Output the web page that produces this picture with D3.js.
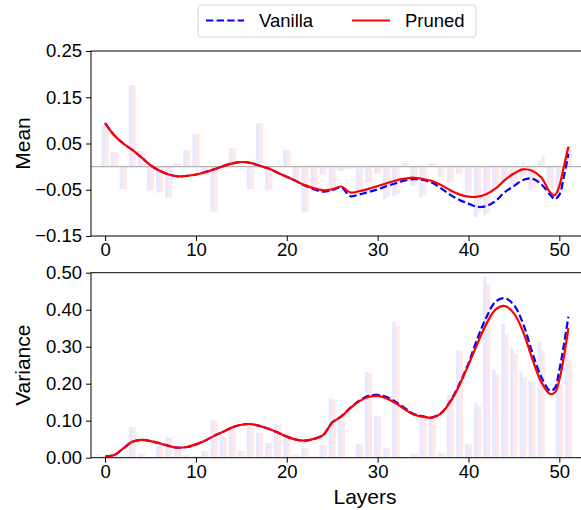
<!DOCTYPE html>
<html>
<head>
<meta charset="utf-8">
<script src="https://cdn.jsdelivr.net/npm/d3@7"></script>
<style>
  body { margin: 0; background: #fff; }
  svg { display: block; font-family: "Liberation Sans", Arial, sans-serif; }
  .tick text { font-size: 18.5px; fill: #000; }
  .tick line { stroke: #000; }
  .domain { display: none; }
</style>
</head>
<body>
<svg id="chart" width="581" height="510"></svg>
<script>
// ---------- data

const layers = d3.range(0, 52);

// sample positions for the smoothed curves
const lineLayers = [0,1,2,3,4,5,6,7,8,9,10,11,12,13,14,15,16,17,18,19,20,21,22,23,24,25,
  26,27,28,29,30,31,32,33,34,35,36,37,38,39,40,41,42,43,44,45,46,47,48,49,49.5,50,50.5,51];

const meanVanillaBars = [0.088,0.031,-0.049,0.176,0.034,-0.052,-0.056,-0.067,0.007,0.036,
  0.070,-0.018,-0.097,0.002,0.040,0.004,-0.049,0.094,-0.051,0.002,
  0.036,-0.029,-0.099,-0.054,-0.017,-0.050,-0.009,-0.005,-0.050,-0.035,
  -0.015,-0.070,-0.064,0.008,-0.042,-0.066,0.007,-0.022,-0.036,-0.015,
  -0.058,-0.110,-0.105,-0.050,-0.030,-0.040,-0.023,-0.050,0.012,-0.050,
  -0.060,0.043];
const meanPrunedBars = [0.086,0.031,-0.049,0.176,0.034,-0.052,-0.056,-0.067,0.007,0.036,
  0.070,-0.018,-0.099,0.002,0.040,0.004,-0.049,0.094,-0.049,0.002,
  0.036,-0.029,-0.099,-0.054,-0.017,-0.050,-0.009,-0.005,-0.048,-0.035,
  -0.015,-0.066,-0.060,0.012,-0.040,-0.062,0.007,-0.020,-0.034,-0.015,
  -0.054,-0.098,-0.100,-0.046,-0.027,-0.036,-0.020,-0.046,0.022,-0.046,
  -0.055,0.045];

const meanVanillaLine = [0.094,0.068,0.050,0.036,0.020,0.003,-0.009,-0.017,-0.021,-0.020,
  -0.017,-0.012,-0.006,0.001,0.007,0.010,0.008,0.002,-0.004,-0.013,
  -0.022,-0.031,-0.041,-0.049,-0.054,-0.051,-0.045,-0.064,-0.060,-0.055,
  -0.049,-0.042,-0.036,-0.030,-0.027,-0.029,-0.035,-0.047,-0.061,-0.072,
  -0.080,-0.087,-0.085,-0.074,-0.055,-0.042,-0.029,-0.026,-0.038,-0.061,
  -0.070,-0.061,-0.022,0.028];
const meanPrunedLine = [0.094,0.068,0.050,0.036,0.020,0.003,-0.009,-0.017,-0.021,-0.020,
  -0.017,-0.012,-0.006,0.001,0.007,0.010,0.008,0.002,-0.004,-0.013,
  -0.022,-0.031,-0.040,-0.047,-0.051,-0.049,-0.043,-0.056,-0.053,-0.048,
  -0.042,-0.036,-0.030,-0.026,-0.024,-0.027,-0.031,-0.040,-0.051,-0.060,
  -0.065,-0.065,-0.059,-0.047,-0.029,-0.015,-0.006,-0.009,-0.023,-0.056,
  -0.062,-0.042,0.000,0.043];

const varVanillaBars = [0.005,0.004,0.002,0.084,0.011,0.001,0.034,0.057,0.021,0.007,
  0.004,0.018,0.102,0.057,0.075,0.018,0.084,0.068,0.041,0.091,
  0.066,0.007,0.028,0.004,0.034,0.162,0.102,0.001,0.037,0.232,
  0.113,0.026,0.367,0.002,0.011,0.111,0.111,0.014,0.169,0.291,
  0.037,0.147,0.489,0.237,0.361,0.296,0.233,0.207,0.314,0.003,
  0.203,0.289];
const varPrunedBars = [0.004,0.004,0.002,0.082,0.011,0.001,0.033,0.056,0.021,0.007,
  0.004,0.018,0.101,0.056,0.074,0.018,0.083,0.067,0.040,0.089,
  0.065,0.007,0.027,0.004,0.033,0.158,0.100,0.001,0.036,0.227,
  0.112,0.025,0.356,0.002,0.011,0.107,0.109,0.013,0.166,0.287,
  0.036,0.140,0.469,0.226,0.334,0.281,0.218,0.205,0.291,0.003,
  0.197,0.264];

const varVanillaLine = [0.003,0.007,0.025,0.043,0.048,0.045,0.039,0.032,0.027,0.029,
  0.036,0.046,0.059,0.070,0.082,0.089,0.091,0.086,0.078,0.068,
  0.057,0.049,0.046,0.051,0.061,0.095,0.112,0.135,0.155,0.167,
  0.170,0.164,0.151,0.134,0.118,0.112,0.109,0.121,0.153,0.199,
  0.255,0.323,0.381,0.422,0.431,0.413,0.363,0.286,0.219,0.181,
  0.188,0.237,0.305,0.381];
const varPrunedLine = [0.003,0.007,0.025,0.043,0.048,0.045,0.039,0.032,0.027,0.029,
  0.036,0.046,0.059,0.070,0.082,0.089,0.091,0.086,0.078,0.068,
  0.057,0.049,0.046,0.051,0.061,0.095,0.111,0.134,0.153,0.164,
  0.167,0.160,0.147,0.131,0.116,0.111,0.108,0.120,0.151,0.196,
  0.251,0.309,0.363,0.401,0.410,0.390,0.341,0.269,0.205,0.172,
  0.176,0.210,0.273,0.350];

const meanTicks = [-0.15, -0.05, 0.05, 0.15, 0.25];
const varTicks = [0, 0.1, 0.2, 0.3, 0.4, 0.5];
const layerTicks = [0, 10, 20, 30, 40, 50];

const seriesNames = ['Vanilla', 'Pruned'];

// ---------- layout

const svg = d3.select('#chart');
const left = 91, right = 582.5;
const barW = 0.4;

const xScale = d3.scaleLinear()
  .domain([-1.55, 52.55])
  .range([left, right]);

const panels = [
  {label: 'Mean', top: 51, bottom: 236, domain: [-0.15, 0.25], ticks: meanTicks,
   bars: [meanVanillaBars, meanPrunedBars], lines: [meanVanillaLine, meanPrunedLine], zero: true},
  {label: 'Variance', top: 272.7, bottom: 457.7, domain: [0, 0.5], ticks: varTicks,
   bars: [varVanillaBars, varPrunedBars], lines: [varVanillaLine, varPrunedLine], zero: false}
];

const barColors = ['rgba(0,0,255,0.09)', 'rgba(255,0,0,0.09)'];
const lineColors = ['#0000ff', '#ff0000'];
const fmt = d3.format('.2f');

panels.forEach(p => {
  const yScale = d3.scaleLinear().domain(p.domain).range([p.bottom, p.top]);
  const g = svg.append('g');

  // bars: vanilla left of the layer, pruned right of it
  p.bars.forEach((vals, s) => {
    g.append('g').selectAll('rect')
      .data(layers)
      .join('rect')
      .attr('x', d => s === 0 ? xScale(d - barW) : xScale(d))
      .attr('width', xScale(barW) - xScale(0))
      .attr('y', d => yScale(Math.max(0, vals[d])))
      .attr('height', d => Math.abs(yScale(vals[d]) - yScale(0)))
      .attr('fill', barColors[s]);
  });

  // zero reference line
  if (p.zero) {
    g.append('line')
      .attr('x1', left).attr('x2', right)
      .attr('y1', yScale(0)).attr('y2', yScale(0))
      .attr('stroke', '#b3b3b3')
      .attr('stroke-width', 1.2);
  }

  // smoothed curves
  const line = d3.line()
    .x((d, i) => xScale(lineLayers[i]))
    .y(d => yScale(d))
    .curve(d3.curveCatmullRom.alpha(0.5));

  p.lines.forEach((vals, s) => {
    g.append('path')
      .datum(vals)
      .attr('d', line)
      .attr('fill', 'none')
      .attr('stroke', lineColors[s])
      .attr('stroke-width', 2.2)
      .attr('stroke-dasharray', s === 0 ? '7.4,3.2' : null);
  });

  // axes
  g.append('g')
    .attr('transform', `translate(${left}, 0)`)
    .call(d3.axisLeft(yScale).tickValues(p.ticks).tickFormat(fmt).tickSize(5).tickPadding(4));

  g.append('g')
    .attr('transform', `translate(0, ${p.bottom})`)
    .call(d3.axisBottom(xScale).tickValues(layerTicks).tickSize(5).tickPadding(2));

  // frame
  g.append('rect')
    .attr('x', left).attr('y', p.top)
    .attr('width', right - left).attr('height', p.bottom - p.top)
    .attr('fill', 'none')
    .attr('stroke', '#000')
    .attr('stroke-width', 1);

  // y label
  svg.append('text')
    .attr('transform', `translate(30, ${(p.top + p.bottom) / 2}) rotate(-90)`)
    .attr('text-anchor', 'middle')
    .style('font-size', '21px')
    .text(p.label);
});

// x label
svg.append('text')
  .attr('x', 365)
  .attr('y', 504)
  .attr('text-anchor', 'middle')
  .style('font-size', '21px')
  .text('Layers');

// ---------- legend

const legend = svg.append('g');
legend.append('rect')
  .attr('x', 198).attr('y', 5)
  .attr('width', 278).attr('height', 32)
  .attr('rx', 3)
  .attr('fill', '#fff')
  .attr('stroke', '#d6d6d6');

const legendX = [206, 352];
seriesNames.forEach((name, i) => {
  legend.append('line')
    .attr('x1', legendX[i]).attr('x2', legendX[i] + 38)
    .attr('y1', 20.5).attr('y2', 20.5)
    .attr('stroke', lineColors[i])
    .attr('stroke-width', 2.2)
    .attr('stroke-dasharray', i === 0 ? '7.4,3.2' : null);
  legend.append('text')
    .attr('x', legendX[i] + 53)
    .attr('y', 27)
    .style('font-size', '18.5px')
    .text(name);
});
</script>
</body>
</html>
